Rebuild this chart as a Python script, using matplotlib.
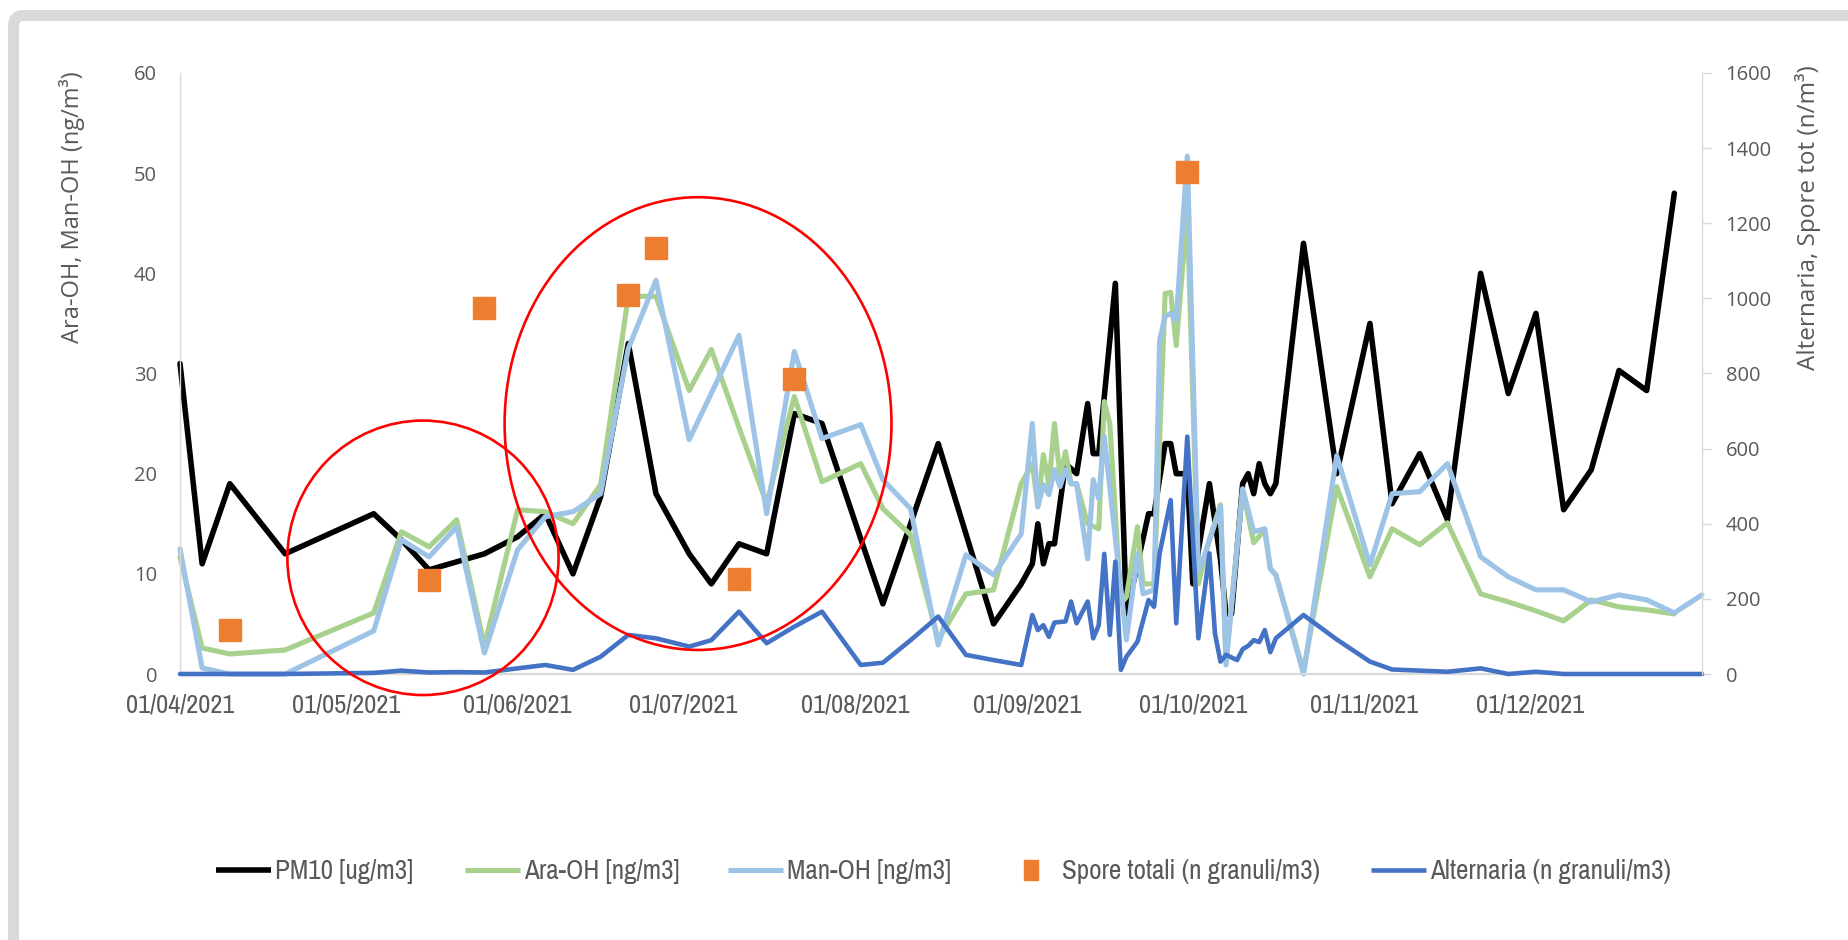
import os
import matplotlib
matplotlib.use("Agg")
import matplotlib.pyplot as plt
import matplotlib.dates as mdates
from matplotlib.patches import Ellipse, FancyBboxPatch
from matplotlib.lines import Line2D
from matplotlib import font_manager
from matplotlib.font_manager import FontProperties
import pandas as pd

# ---------------------------------------------------------------- fonts
_installed = {f.name for f in font_manager.fontManager.ttflist}
BODY = "Open Sans" if "Open Sans" in _installed else "DejaVu Sans"


def _find_narrow():
    """Return the file of an installed narrow/condensed regular face, if any."""
    best = None
    for f in font_manager.fontManager.ttflist:
        base = os.path.basename(f.fname).lower()
        if not ("narrow" in base or "condensed" in base):
            continue
        if any(k in base for k in ("bold", "italic", "oblique", "light", "thin",
                                   "black", "medium", "semi", "extra")):
            continue
        rank = 0 if "liberation" in base else (2 if "dejavu" in base else 1)
        if best is None or rank < best[0]:
            best = (rank, f.fname)
    return best


_narrow = _find_narrow()
if _narrow is not None and _narrow[0] < 2:
    NARROW = dict(fname=_narrow[1])
    XTICK_SIZE, LEGEND_SIZE = 19.0, 19.5
else:
    NARROW = dict(family=BODY)
    XTICK_SIZE, LEGEND_SIZE = 15.5, 15.5

TEXT_GREY = "#595959"
AXIS_GREY = "#d9d9d9"

# ---------------------------------------------------------------- data
pm10_dates = [
    "2021-04-01", "2021-04-05", "2021-04-10", "2021-04-20", "2021-05-06", "2021-05-11",
    "2021-05-16", "2021-05-21", "2021-05-26", "2021-06-01", "2021-06-06", "2021-06-11",
    "2021-06-16", "2021-06-21", "2021-06-26", "2021-07-02", "2021-07-06", "2021-07-11",
    "2021-07-16", "2021-07-21", "2021-07-26", "2021-08-02", "2021-08-06", "2021-08-11",
    "2021-08-16", "2021-08-21", "2021-08-26", "2021-08-31", "2021-09-02", "2021-09-03",
    "2021-09-04", "2021-09-05", "2021-09-06", "2021-09-08", "2021-09-10", "2021-09-12",
    "2021-09-13", "2021-09-14", "2021-09-17", "2021-09-19", "2021-09-23", "2021-09-24",
    "2021-09-26", "2021-09-27", "2021-09-28", "2021-09-30", "2021-10-01", "2021-10-04",
    "2021-10-06", "2021-10-07", "2021-10-08", "2021-10-10", "2021-10-11", "2021-10-12",
    "2021-10-13", "2021-10-14", "2021-10-15", "2021-10-16", "2021-10-21", "2021-10-27",
    "2021-11-02", "2021-11-06", "2021-11-11", "2021-11-16", "2021-11-22", "2021-11-27",
    "2021-12-02", "2021-12-07", "2021-12-12", "2021-12-17", "2021-12-22", "2021-12-27",
]
pm10_values = [
    31, 11, 19, 12, 16, 13.4,
    10.4, 11.2, 12, 13.7, 16, 10,
    17.7, 33, 18, 12, 9, 13,
    12, 26, 25, 13.5, 7, 15,
    23, 14, 5, 9, 11, 15,
    11, 13, 13, 21, 20, 27,
    22, 22, 39, 6, 16, 16,
    23, 23, 20, 20, 9, 19,
    11.4, 6, 6, 19, 20, 18,
    21, 19, 18, 19, 43, 20,
    35, 17, 22, 15.4, 40, 28,
    36, 16.4, 20.4, 30.3, 28.3, 48,
]

ara_dates = [
    "2021-04-01", "2021-04-05", "2021-04-10", "2021-04-20", "2021-05-06", "2021-05-11",
    "2021-05-16", "2021-05-21", "2021-05-26", "2021-06-01", "2021-06-06", "2021-06-11",
    "2021-06-16", "2021-06-21", "2021-06-26", "2021-07-02", "2021-07-06", "2021-07-11",
    "2021-07-16", "2021-07-21", "2021-07-26", "2021-08-02", "2021-08-06", "2021-08-11",
    "2021-08-16", "2021-08-21", "2021-08-26", "2021-08-31", "2021-09-02", "2021-09-03",
    "2021-09-04", "2021-09-05", "2021-09-06", "2021-09-07", "2021-09-08", "2021-09-09",
    "2021-09-10", "2021-09-12", "2021-09-14", "2021-09-15", "2021-09-16", "2021-09-18",
    "2021-09-19", "2021-09-21", "2021-09-22", "2021-09-24", "2021-09-26", "2021-09-27",
    "2021-09-28", "2021-09-30", "2021-10-02", "2021-10-04", "2021-10-06", "2021-10-07",
    "2021-10-10", "2021-10-12", "2021-10-14", "2021-10-15", "2021-10-16", "2021-10-21",
    "2021-10-27", "2021-11-02", "2021-11-06", "2021-11-11", "2021-11-16", "2021-11-22",
    "2021-11-27", "2021-12-02", "2021-12-07", "2021-12-12", "2021-12-17", "2021-12-22",
    "2021-12-27",
]
ara_values = [
    11.7, 2.6, 2.0, 2.4, 6.1, 14.2,
    12.7, 15.4, 2.8, 16.4, 16.2, 15.0,
    18.9, 37.7, 37.7, 28.3, 32.4, 24.6,
    17.0, 27.7, 19.2, 21.0, 16.5, 13.9,
    3.4, 8.0, 8.4, 19.0, 21.0, 16.7,
    21.9, 18.9, 25.0, 19.7, 22.2, 19.0,
    19.0, 15.0, 14.5, 27.2, 25.0, 7.0,
    7.7, 14.7, 9.0, 9.0, 38.0, 38.1,
    32.8, 46.3, 9.0, 13.4, 16.9, 1.5,
    18.4, 13.1, 14.4, 10.5, 9.9, 0.3,
    18.7, 9.7, 14.5, 12.9, 15.1, 8.0,
    7.2, 6.3, 5.3, 7.4, 6.7, 6.4,
    6.0,
]

man_dates = [
    "2021-04-01", "2021-04-05", "2021-04-10", "2021-04-20", "2021-05-06", "2021-05-11",
    "2021-05-16", "2021-05-21", "2021-05-26", "2021-06-01", "2021-06-06", "2021-06-11",
    "2021-06-16", "2021-06-21", "2021-06-26", "2021-07-02", "2021-07-11", "2021-07-16",
    "2021-07-21", "2021-07-26", "2021-08-02", "2021-08-06", "2021-08-11", "2021-08-16",
    "2021-08-21", "2021-08-26", "2021-08-31", "2021-09-02", "2021-09-03", "2021-09-04",
    "2021-09-05", "2021-09-06", "2021-09-07", "2021-09-08", "2021-09-09", "2021-09-10",
    "2021-09-12", "2021-09-13", "2021-09-14", "2021-09-15", "2021-09-19", "2021-09-21",
    "2021-09-22", "2021-09-24", "2021-09-25", "2021-09-26", "2021-09-27", "2021-09-28",
    "2021-09-30", "2021-10-02", "2021-10-03", "2021-10-06", "2021-10-07", "2021-10-10",
    "2021-10-12", "2021-10-14", "2021-10-15", "2021-10-16", "2021-10-21", "2021-10-27",
    "2021-11-02", "2021-11-06", "2021-11-11", "2021-11-16", "2021-11-22", "2021-11-27",
    "2021-12-02", "2021-12-07", "2021-12-12", "2021-12-17", "2021-12-22", "2021-12-27",
    "2022-01-01",
]
man_values = [
    12.5, 0.6, 0.0, 0.0, 4.3, 13.4,
    11.7, 14.7, 2.1, 12.4, 15.7, 16.2,
    18.0, 32.5, 39.3, 23.4, 33.8, 16.0,
    32.2, 23.5, 24.9, 19.4, 16.5, 2.9,
    11.9, 9.9, 14.0, 25.0, 16.7, 18.9,
    17.9, 20.4, 18.7, 20.4, 19.0, 19.0,
    11.5, 19.4, 17.5, 23.7, 3.4, 12.0,
    8.0, 8.4, 33.3, 35.7, 36.0, 35.3,
    51.7, 10.4, 11.7, 16.7, 0.9, 18.5,
    14.2, 14.5, 10.5, 9.9, 0.0, 21.8,
    10.9, 18.0, 18.2, 21.0, 11.7, 9.7,
    8.4, 8.4, 7.2, 7.9, 7.4, 6.1,
    7.9,
]

spore_dates = [
    "2021-04-10", "2021-05-16", "2021-05-26", "2021-06-21",
    "2021-06-26", "2021-07-11", "2021-07-21", "2021-09-30",
]
spore_values = [117, 250, 974, 1010, 1133, 252, 786, 1336]

alt_dates = [
    "2021-04-01", "2021-04-05", "2021-04-10", "2021-04-20", "2021-05-06", "2021-05-11",
    "2021-05-16", "2021-05-21", "2021-05-26", "2021-06-01", "2021-06-06", "2021-06-11",
    "2021-06-16", "2021-06-21", "2021-06-26", "2021-07-02", "2021-07-06", "2021-07-11",
    "2021-07-16", "2021-07-21", "2021-07-26", "2021-08-02", "2021-08-06", "2021-08-11",
    "2021-08-16", "2021-08-21", "2021-08-26", "2021-08-31", "2021-09-02", "2021-09-03",
    "2021-09-04", "2021-09-05", "2021-09-06", "2021-09-08", "2021-09-09", "2021-09-10",
    "2021-09-12", "2021-09-13", "2021-09-14", "2021-09-15", "2021-09-16", "2021-09-17",
    "2021-09-18", "2021-09-19", "2021-09-21", "2021-09-23", "2021-09-24", "2021-09-25",
    "2021-09-27", "2021-09-28", "2021-09-30", "2021-10-02", "2021-10-04", "2021-10-05",
    "2021-10-06", "2021-10-07", "2021-10-09", "2021-10-10", "2021-10-11", "2021-10-12",
    "2021-10-13", "2021-10-14", "2021-10-15", "2021-10-16", "2021-10-21", "2021-10-27",
    "2021-11-02", "2021-11-06", "2021-11-11", "2021-11-16", "2021-11-22", "2021-11-27",
    "2021-12-02", "2021-12-07", "2021-12-12", "2021-12-17", "2021-12-22", "2021-12-27",
    "2022-01-01",
]
alt_values = [
    0, 0, 0, 0, 3, 9,
    4, 5, 4, 15, 24, 11,
    46, 104, 95, 73, 90, 166,
    82, 126, 166, 24, 30, 90,
    153, 51, 37, 24, 157, 117,
    130, 99, 137, 140, 193, 135,
    193, 95, 130, 320, 104, 299,
    11, 46, 86, 197, 179, 321,
    463, 135, 632, 95, 321, 108,
    33, 51, 37, 66, 75, 90,
    85, 117, 58, 95, 157, 92,
    33, 12, 9, 6, 15, 0,
    6, 0, 0, 0, 0, 0,
    0,
]

tick_dates = [
    "2021-04-01", "2021-05-01", "2021-06-01", "2021-07-01", "2021-08-01",
    "2021-09-01", "2021-10-01", "2021-11-01", "2021-12-01",
]
tick_labels = [
    "01/04/2021", "01/05/2021", "01/06/2021", "01/07/2021", "01/08/2021",
    "01/09/2021", "01/10/2021", "01/11/2021", "01/12/2021",
]
left_ticks = [0, 10, 20, 30, 40, 50, 60]
right_ticks = [0, 200, 400, 600, 800, 1000, 1200, 1400, 1600]

labels = [
    "PM10 [ug/m3]", "Ara-OH [ng/m3]", "Man-OH [ng/m3]",
    "Spore totali (n granuli/m3)", "Alternaria (n granuli/m3)",
]
colors = ["#000000", "#A9D18E", "#9DC3E6", "#ED7D31", "#4472C4"]
widths = [4.0, 3.7, 3.7, None, 3.3]

# ---------------------------------------------------------------- figure
W, H = 1848, 940
fig = plt.figure(figsize=(W / 100, H / 100), dpi=100)
fig.patch.set_facecolor("white")

# outer frame (grey rounded border, opening toward the right/bottom)
fig.add_artist(FancyBboxPatch((13.5, -60), W + 100, H - 15.5 + 60,
                              boxstyle="round,pad=0,rounding_size=10",
                              transform=None, fc="none", ec=AXIS_GREY, lw=11 * 0.72))

L, R, T, B = 180, 1702, 73, 674
ax = fig.add_axes([L / W, 1 - B / H, (R - L) / W, (B - T) / H])
ax2 = ax.twinx()

line_kw = dict(solid_joinstyle="round", solid_capstyle="round", clip_on=False)
ax.plot(pd.to_datetime(pm10_dates), pm10_values, color=colors[0], lw=widths[0], **line_kw)
ax.plot(pd.to_datetime(ara_dates), ara_values, color=colors[1], lw=widths[1], **line_kw)
ax.plot(pd.to_datetime(man_dates), man_values, color=colors[2], lw=widths[2], **line_kw)
ax2.plot(pd.to_datetime(alt_dates), alt_values, color=colors[4], lw=widths[4], **line_kw)
ax2.plot(pd.to_datetime(spore_dates), spore_values, ls="none", marker="s", ms=16.5,
         color=colors[3], clip_on=False)

ax.set_xlim(pd.Timestamp("2021-04-01"), pd.Timestamp("2022-01-01"))
ax.set_ylim(0, 60)
ax2.set_ylim(0, 1600)

ax.set_xticks(pd.to_datetime(tick_dates))
ax.set_xticklabels(tick_labels)
ax.set_yticks(left_ticks)
ax2.set_yticks(right_ticks)

for s in ("top", "right"):
    ax.spines[s].set_visible(False)
for s in ("top", "left", "bottom"):
    ax2.spines[s].set_visible(False)
ax.spines["left"].set_color(AXIS_GREY)
ax.spines["left"].set_linewidth(1.0)
ax.spines["bottom"].set_color(AXIS_GREY)
ax.spines["bottom"].set_linewidth(1.6)
ax2.spines["right"].set_color(AXIS_GREY)
ax2.spines["right"].set_linewidth(1.0)

ax.tick_params(axis="x", length=0, pad=14, labelcolor=TEXT_GREY)
ax.tick_params(axis="y", length=0, pad=16.5, labelsize=14.5, labelcolor=TEXT_GREY)
ax2.tick_params(axis="y", length=6.5, width=1, color=AXIS_GREY, pad=10.5,
                labelsize=14.5, labelcolor=TEXT_GREY)
for t in ax.get_xticklabels():
    t.set_fontproperties(FontProperties(size=XTICK_SIZE, **NARROW))
for t in ax.get_yticklabels() + ax2.get_yticklabels():
    t.set_fontfamily(BODY)

ax.set_ylabel("Ara-OH, Man-OH (ng/m³)", fontsize=17, color=TEXT_GREY, family=BODY,
              va="center", ha="center")
ax.yaxis.set_label_coords((72 - L) / (R - L), (B - 207) / (B - T))
ax2.set_ylabel("Alternaria, Spore tot (n/m³)", fontsize=17.5, color=TEXT_GREY, family=BODY,
               rotation=90, va="center", ha="center")
ax2.yaxis.set_label_coords((1808 - L) / (R - L), (B - 218) / (B - T))

# red highlight ellipses (left-axis data units, widths in days)
t0 = mdates.date2num(pd.Timestamp("2021-04-01"))
for cx, cy, w, h in [(43.9, 11.6, 49.0, 27.4), (93.6, 25.0, 69.9, 45.2)]:
    e = Ellipse((t0 + cx, cy), w, h, transform=ax.transData, fill=False,
                ec="#FF0000", lw=1.9, zorder=10, clip_on=False)
    ax2.add_patch(e)

# legend, one entry per block
leg_y = 1 - 872 / H
rect = [(-0.33, -0.5), (0.33, -0.5), (0.33, 0.5), (-0.33, 0.5), (-0.33, -0.5)]
handles = [
    Line2D([], [], color=colors[0], lw=widths[0], solid_capstyle="butt"),
    Line2D([], [], color=colors[1], lw=widths[1], solid_capstyle="butt"),
    Line2D([], [], color=colors[2], lw=widths[2], solid_capstyle="butt"),
    Line2D([], [], ls="none", marker=rect, ms=14.5, color=colors[3]),
    Line2D([], [], color=colors[4], lw=widths[4], solid_capstyle="butt"),
]
handle_px = 55
starts = [216, 465, 728, 1031 - handle_px / 2, 1371]
for hnd, lab, x0 in zip(handles, labels, starts):
    fig.legend([hnd], [lab], loc="center left", bbox_to_anchor=(x0 / W, leg_y),
               frameon=False, borderpad=0, borderaxespad=0,
               handlelength=handle_px * 0.72 / LEGEND_SIZE,
               handletextpad=4 * 0.72 / LEGEND_SIZE,
               labelcolor=TEXT_GREY, prop=FontProperties(size=LEGEND_SIZE, **NARROW))

fig.savefig("out.png", dpi=100)
